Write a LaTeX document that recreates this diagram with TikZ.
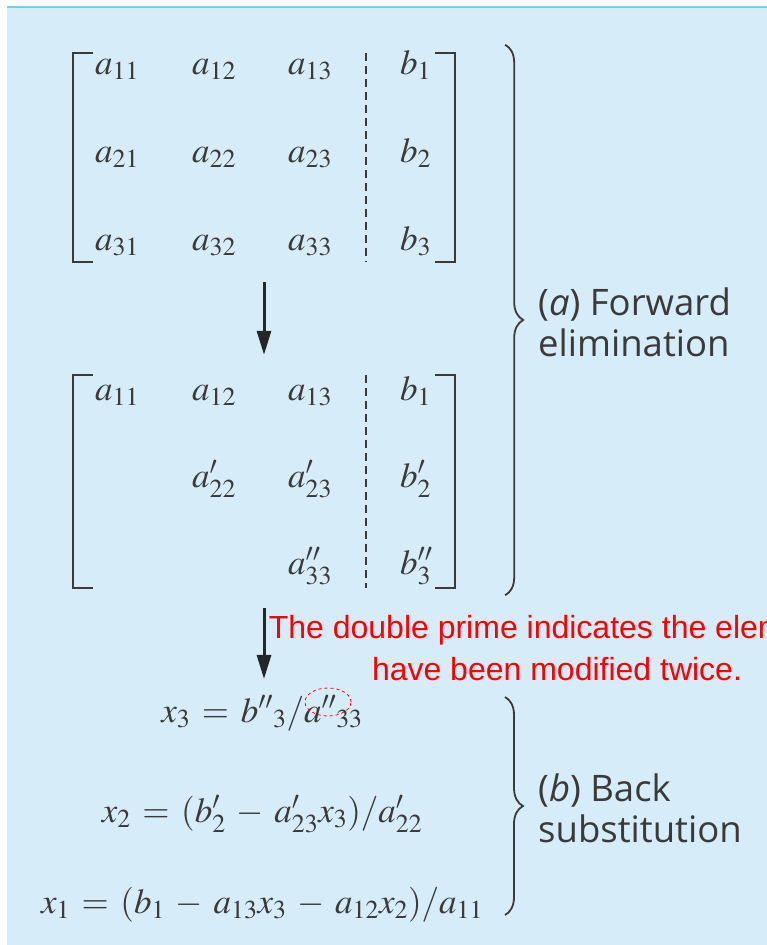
\documentclass[tikz,border=0pt]{standalone}
\usepackage{mathptmx}
\usepackage[no-math]{fontspec}
\setsansfont{Open Sans}
\newfontfamily\notefont{Liberation Sans}
\usepackage{xcolor}
\usetikzlibrary{arrows.meta,positioning,calc,decorations.pathreplacing,shapes.geometric}

\definecolor{bgblue}{RGB}{214,236,249}
\definecolor{rimblue}{RGB}{122,206,240}
\definecolor{inkgray}{RGB}{58,58,58}
\definecolor{notered}{RGB}{255,0,0}
\medmuskip=5.5mu plus 2mu minus 4mu
\thickmuskip=6mu plus 5mu

\begin{document}
\begin{tikzpicture}[x=1pt,y=-1pt,
  entry/.style={anchor=base,text=inkgray,inner sep=0pt,font=\fontsize{35}{42}\selectfont},
  matbox/.style={minimum width=382pt,inner sep=0pt},
  bracket/.style={draw=inkgray,line width=2pt},
  divider/.style={draw=inkgray,line width=2pt,dash pattern=on 8pt off 5pt},
  bigarrow/.style={-{Triangle[length=24pt,width=14pt]},line width=3pt,draw=black!85},
  bigbrace/.style={decorate,decoration={brace,amplitude=18pt},draw=inkgray,line width=1.8pt},
  steplabel/.style={anchor=west,align=left,inner sep=0pt,text=inkgray,font=\sffamily\fontsize{36.5}{41}\selectfont},
  note/.style={align=center,inner sep=0pt,text=notered,font=\notefont\fontsize{32}{42}\selectfont}]

  \clip (0,0) rectangle (767,945);
  \fill[white] (0,0) rectangle (767,945);
  \fill[bgblue] (7,6) rectangle (767,945);
  \draw[rimblue,line width=2pt] (7,7) -- (767,7);

  % original system
  \node[matbox,minimum height=209pt] (mat1) at (264,157.5) {};
  \foreach \r/\y in {1/74,2/162,3/250}{
    \foreach \c/\x in {1/95,2/192,3/288}
      \node[entry,anchor=base west] (p\r\c) at (\x,\y) {$a_{\r\c}$};
    \node[entry,anchor=base west] (pb\r) at (400,\y) {$b_\r$};
  }

  % after forward elimination
  \node[matbox,minimum height=213pt] (mat2) at (264,481.5) {};
  \foreach \c/\x in {1/95,2/192,3/288}
    \node[entry,anchor=base west] (q1\c) at (\x,400) {$a_{1\c}$};
  \node[entry,anchor=base west] (qb1) at (400,400) {$b_1$};
  \node[entry,anchor=base west] (q22) at (192,487) {$a'_{22}$};
  \node[entry,anchor=base west] (q23) at (288,487) {$a'_{23}$};
  \node[entry,anchor=base west] (qb2) at (400,487) {$b'_2$};
  \node[entry,anchor=base west] (q33) at (288,574) {$a''_{33}$};
  \node[entry,anchor=base west] (qb3) at (400,574) {$b''_3$};

  \foreach \m in {mat1,mat2}{
    \draw[bracket] ([xshift=20pt]\m.north west) -- (\m.north west) -- (\m.south west) -- ([xshift=20pt]\m.south west);
    \draw[bracket] ([xshift=-20pt]\m.north east) -- (\m.north east) -- (\m.south east) -- ([xshift=-20pt]\m.south east);
    \draw[divider] ([xshift=102pt]\m.north) -- ([xshift=102pt]\m.south);
  }

  % back substitution
  \node[entry] (eq3) at (262,722) {$x_3 = b''{}_3/a''{}_{33}$};
  \node[entry] (eq2) at (262,822) {$x_2 = (b'_2 - a'_{23}x_3)/a'_{22}$};
  \node[entry] (eq1) at (262,913) {$x_1 = (b_1 - a_{13}x_3 - a_{12}x_2)/a_{11}$};

  \draw[bigarrow] ([yshift=-20pt]mat1.south) -- ([yshift=20pt]mat2.north);
  \draw[bigarrow] ([yshift=-20pt]mat2.south) -- ([yshift=16pt]mat2.south |- eq3.north);

  \draw[bigbrace] ([xshift=50pt,yshift=8pt]mat1.north east) -- ([xshift=50pt,yshift=-7pt]mat2.south east);
  \node[steplabel] (fwd) at (538,322) {(\textit{a}) Forward\\elimination};
  \draw[bigbrace] (505,697) -- (505,915);
  \node[steplabel] (back) at (538,808) {(\textit{b}) Back\\substitution};

  \node[note,anchor=base] (remark) at (557,680) {The double prime indicates the elements\\have been modified twice.};
  \node[draw=notered,dashed,ellipse,line width=0.8pt,minimum width=46pt,minimum height=28pt,inner sep=0pt] (twice) at (328,702) {};
\end{tikzpicture}
\end{document}
